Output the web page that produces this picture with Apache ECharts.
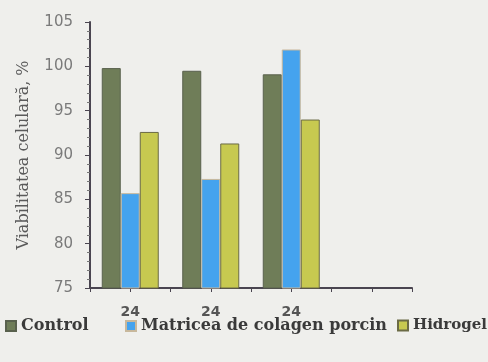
<!DOCTYPE html>
<html><head><meta charset="utf-8">
<script src="https://cdn.jsdelivr.net/npm/echarts@6/dist/echarts.min.js"></script>
<style>html,body{margin:0;padding:0;background:#efefec}#c{width:488px;height:362px}</style>
</head><body><div id="c"></div>
<script>
const categories = ['24', '24', '24', ''];
const control = [99.8, 99.5, 99.1, null];
const matricea = [85.7, 87.3, 101.9, null];
const hidrogel = [92.6, 91.3, 94.0, null];
const seriesNames = ['Control', 'Matricea de colagen porcin', 'Hidrogel'];
const halfSlots = ['', '', '', '', '', '', '', ''];

const legendText = {fontFamily: 'DejaVu Serif', fontWeight: 'bold', fontSize: 16, color: '#3a3a3a'};
function legendAt(left, name, size) {
  return {left: left, top: 313, itemWidth: 10, itemHeight: 10, icon: 'rect',
          textStyle: Object.assign({}, legendText, {fontSize: size}), data: [name]};
}

const chart = echarts.init(document.getElementById('c'));
chart.setOption({
  backgroundColor: '#efefec',
  animation: false,
  grid: {left: 90, right: 76, top: 22, bottom: 74},
  legend: [legendAt(0, seriesNames[0], 16), legendAt(120, seriesNames[1], 16), legendAt(392, seriesNames[2], 15)],
  xAxis: [{
    type: 'category', data: categories,
    axisLine: {lineStyle: {color: '#4a4550', width: 2}},
    axisTick: {show: true, length: 4, lineStyle: {color: '#4a4550'}},
    axisLabel: {fontFamily: 'DejaVu Sans', fontWeight: 'bold', fontSize: 14, color: '#555', margin: 17}
  }, {
    type: 'category', data: halfSlots, position: 'bottom',
    axisLine: {show: false},
    axisTick: {show: true, length: 4, lineStyle: {color: '#4a4550'}},
    axisLabel: {show: false}
  }],
  yAxis: {
    type: 'value', min: 75, max: 105, interval: 5,
    name: 'Viabilitatea celulară, %', nameLocation: 'middle', nameGap: 58, nameRotate: 90,
    nameTextStyle: {fontFamily: 'DejaVu Serif', fontSize: 16, color: '#5a5a5a'},
    axisLine: {show: true, lineStyle: {color: '#4a4550', width: 2}},
    axisTick: {show: true, length: 5, inside: false, lineStyle: {color: '#4a4550'}},
    minorTick: {show: true, splitNumber: 5, length: 3, lineStyle: {color: '#777'}},
    splitLine: {show: false},
    axisLabel: {fontFamily: 'DejaVu Sans', fontSize: 15, color: '#7a7a7a', margin: 17}
  },
  series: [
    {name: seriesNames[0], type: 'bar', data: control, barWidth: 19, barGap: '0%',
     itemStyle: {color: '#6f7d58', borderColor: '#59614d', borderWidth: 1}},
    {name: seriesNames[1], type: 'bar', data: matricea, barWidth: 19, barGap: '0%',
     itemStyle: {color: '#45a3ee', borderColor: '#c8b89c', borderWidth: 1}},
    {name: seriesNames[2], type: 'bar', data: hidrogel, barWidth: 19, barGap: '0%',
     itemStyle: {color: '#c7c950', borderColor: '#6b6b45', borderWidth: 1}}
  ]
});
</script></body></html>
